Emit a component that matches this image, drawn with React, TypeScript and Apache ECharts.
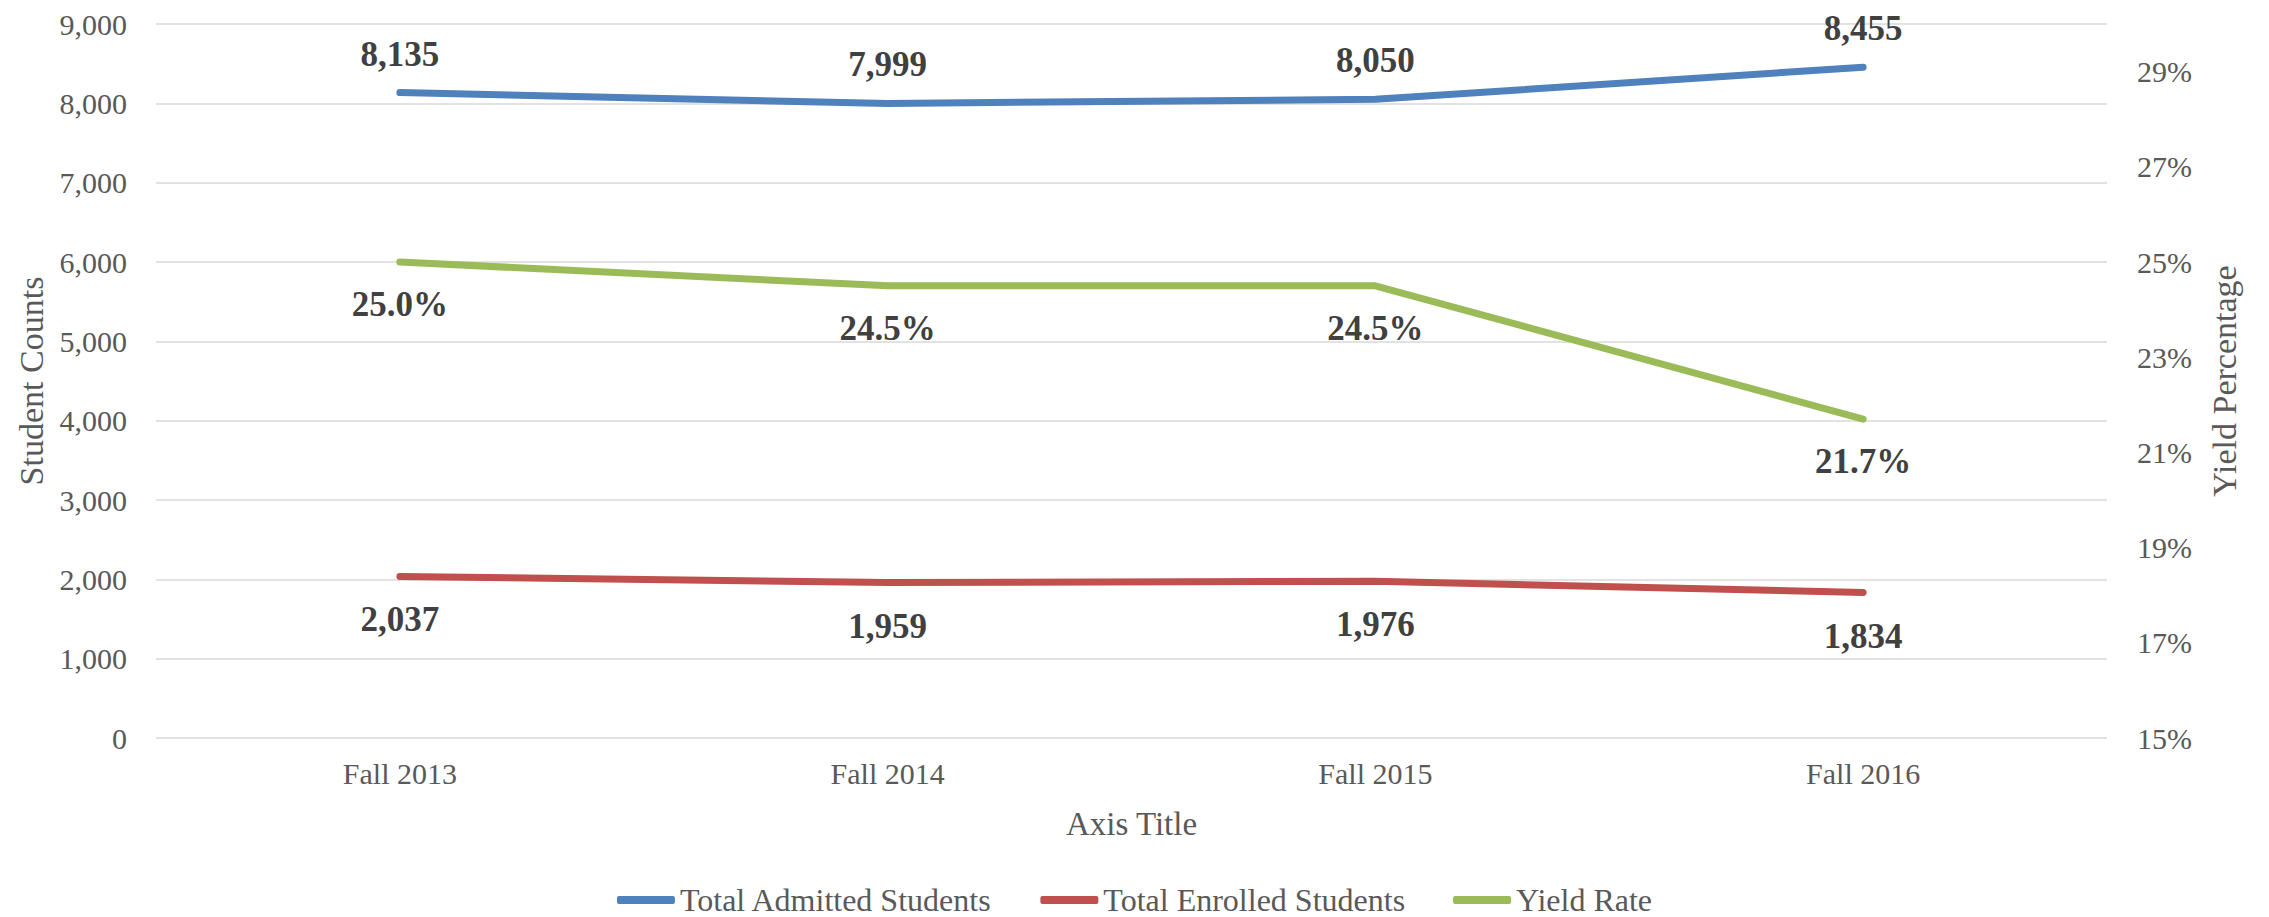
import React, { useEffect, useRef } from "react";
import * as echarts from "echarts";

const categories = ["Fall 2013", "Fall 2014", "Fall 2015", "Fall 2016"];
const admitted = [8135, 7999, 8050, 8455];
const enrolled = [2037, 1959, 1976, 1834];
const yieldRate = [25.0, 24.5, 24.5, 21.7];

const seriesNames = ["Total Admitted Students", "Total Enrolled Students", "Yield Rate"];
const colors = ["#4F81BD", "#C0504D", "#9BBB59"];

const FONT = "'Liberation Serif', 'Times New Roman', serif";

export default function App() {
  const ref = useRef<HTMLDivElement>(null);

  useEffect(() => {
    document.body.style.margin = "0";
    if (!ref.current) return;
    const chart = echarts.init(ref.current, undefined, { renderer: "svg" });

    const labelBase = {
      show: true,
      fontFamily: FONT,
      fontSize: 35,
      fontWeight: "bold" as const,
      color: "#404040",
    };

    const option = {
      animation: false,
      textStyle: { fontFamily: FONT },
      grid: { left: 156, right: 162, top: 24, bottom: 179, containLabel: false },
      legend: {
        data: seriesNames,
        top: 884,
        left: "center",
        padding: 0,
        itemGap: 48,
        itemWidth: 58,
        itemHeight: 8,
        icon: "roundRect",
        textStyle: { fontFamily: FONT, fontSize: 32, color: "#595959" },
      },
      xAxis: {
        type: "category",
        data: categories,
        boundaryGap: true,
        axisLine: { show: false },
        axisTick: { show: false },
        axisLabel: { fontFamily: FONT, fontSize: 30, color: "#595959", margin: 20 },
        name: "Axis Title",
        nameLocation: "middle",
        nameGap: 69,
        nameTextStyle: { fontFamily: FONT, fontSize: 33, color: "#595959" },
      },
      yAxis: [
        {
          type: "value",
          min: 0,
          max: 9000,
          interval: 1000,
          position: "left",
          axisLine: { show: false },
          axisTick: { show: false },
          axisLabel: {
            fontFamily: FONT,
            fontSize: 30,
            color: "#595959",
            margin: 29,
            formatter: (v: number) => v.toLocaleString("en-US"),
          },
          splitLine: { show: true, lineStyle: { color: "#D9D9D9", width: 1.5 } },
          name: "Student Counts",
          nameLocation: "middle",
          nameGap: 107,
          nameTextStyle: { fontFamily: FONT, fontSize: 34, color: "#595959" },
        },
        {
          type: "value",
          min: 15,
          max: 30,
          interval: 1,
          position: "right",
          axisLine: { show: false },
          axisTick: { show: false },
          splitLine: { show: false },
          axisLabel: {
            fontFamily: FONT,
            fontSize: 30,
            color: "#595959",
            margin: 30,
            formatter: (v: number) => (Math.round(v) % 2 === 1 ? `${Math.round(v)}%` : ""),
          },
          name: "Yield Percentage",
          nameLocation: "middle",
          nameGap: 100,
          nameTextStyle: { fontFamily: FONT, fontSize: 34, color: "#595959" },
        },
      ],
      series: [
        {
          name: seriesNames[0],
          type: "line",
          yAxisIndex: 0,
          data: admitted,
          symbol: "circle",
          symbolSize: 2,
          showSymbol: true,
          itemStyle: { color: colors[0] },
          lineStyle: { color: colors[0], width: 7, cap: "round", join: "round" },
          label: {
            ...labelBase,
            position: "top",
            distance: 20,
            formatter: (p: any) => Number(p.value).toLocaleString("en-US"),
          },
        },
        {
          name: seriesNames[1],
          type: "line",
          yAxisIndex: 0,
          data: enrolled,
          symbol: "circle",
          symbolSize: 2,
          showSymbol: true,
          itemStyle: { color: colors[1] },
          lineStyle: { color: colors[1], width: 7, cap: "round", join: "round" },
          label: {
            ...labelBase,
            position: "bottom",
            distance: 25,
            formatter: (p: any) => Number(p.value).toLocaleString("en-US"),
          },
        },
        {
          name: seriesNames[2],
          type: "line",
          yAxisIndex: 1,
          data: yieldRate,
          symbol: "circle",
          symbolSize: 2,
          showSymbol: true,
          itemStyle: { color: colors[2] },
          lineStyle: { color: colors[2], width: 7, cap: "round", join: "round" },
          label: {
            ...labelBase,
            position: "bottom",
            distance: 24,
            formatter: (p: any) => `${Number(p.value).toFixed(1)}%`,
          },
        },
      ],
    };

    chart.setOption(option as any);
    return () => chart.dispose();
  }, []);

  return <div ref={ref} style={{ width: 2269, height: 917 }} />;
}
